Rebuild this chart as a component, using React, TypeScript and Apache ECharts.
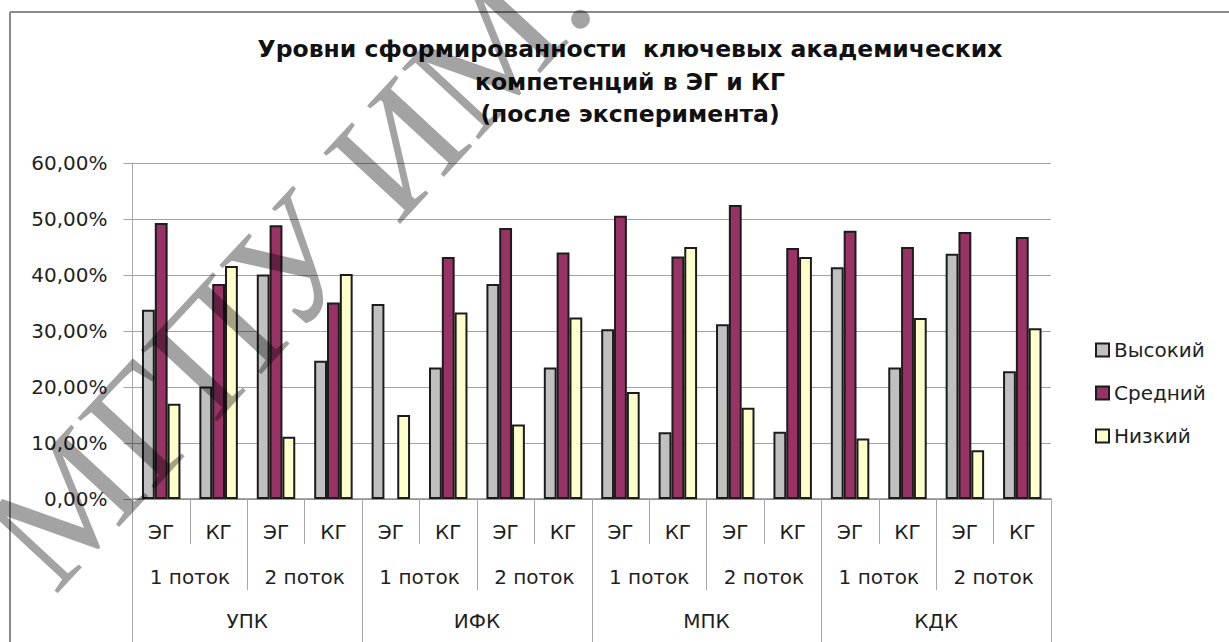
import { useEffect, useRef } from 'react';
import * as echarts from 'echarts';

const groupLabels = ['УПК', 'ИФК', 'МПК', 'КДК'];
const streamLabels = ['1 поток', '2 поток', '1 поток', '2 поток', '1 поток', '2 поток', '1 поток', '2 поток'];
const subgroupLabels = ['ЭГ', 'КГ', 'ЭГ', 'КГ', 'ЭГ', 'КГ', 'ЭГ', 'КГ', 'ЭГ', 'КГ', 'ЭГ', 'КГ', 'ЭГ', 'КГ', 'ЭГ', 'КГ'];

const seriesNames = ['Высокий', 'Средний', 'Низкий'];
const highValues = [33.8, 20.1, 40.1, 24.7, 34.8, 23.5, 38.4, 23.5, 30.3, 11.9, 31.2, 12.0, 41.4, 23.5, 43.8, 22.8];
const midValues = [49.3, 38.4, 48.9, 35.1, null, 43.2, 48.4, 44.0, 50.6, 43.3, 52.5, 44.8, 47.9, 45.0, 47.7, 46.8];
const lowValues = [17.0, 41.6, 11.1, 40.2, 15.0, 33.3, 13.3, 32.4, 19.1, 45.0, 16.3, 43.2, 10.8, 32.3, 8.7, 30.5];

const titleText = 'Уровни сформированности  ключевых академических\nкомпетенций в ЭГ и КГ\n(после эксперимента)';
const watermarkText = 'МГПУ ИМ. И.П.';

const FONT = '"DejaVu Sans", "Noto Sans", sans-serif';
const TEXT = '#1f1f1f';
const GRID_GRAY = '#a3a3a3';
const SEP_GRAY = '#a8a8a8';
const BORDER = '#1c1c1c';

export default function App() {
  const ref = useRef<HTMLDivElement>(null);

  useEffect(() => {
    document.body.style.margin = '0';
    if (!ref.current) return;
    const chart = echarts.init(ref.current, null, { renderer: 'svg' });

    const barStyle = (color: string) => ({ color, borderColor: BORDER, borderWidth: 2 });

    const option: any = {
      animation: false,
      backgroundColor: '#ffffff',
      title: {
        text: titleText,
        left: 625,
        top: 28,
        textAlign: 'center',
        textStyle: { fontFamily: FONT, fontSize: 23.5, fontWeight: 'bold', color: '#111', lineHeight: 32.5 },
      },
      legend: {
        orient: 'vertical',
        left: 1090,
        top: 335,
        itemWidth: 13,
        itemHeight: 13,
        itemGap: 23,
        icon: 'rect',
        data: seriesNames,
        textStyle: { fontFamily: FONT, fontSize: 20, color: TEXT, lineHeight: 20 },
      },
      grid: { left: 132.5, right: 178, top: 163, bottom: 143, containLabel: false },
      xAxis: [
        {
          type: 'category',
          data: subgroupLabels,
          position: 'bottom',
          axisLine: { show: true, lineStyle: { color: '#8c8c8c', width: 1.5 } },
          axisTick: { show: true, interval: 0, length: 45, lineStyle: { color: SEP_GRAY } },
          axisLabel: { interval: 0, margin: 23, fontFamily: FONT, fontSize: 20, color: TEXT },
        },
        {
          type: 'category',
          data: streamLabels,
          position: 'bottom',
          offset: 45,
          axisLine: { show: false },
          axisTick: { show: true, interval: 0, length: 46, lineStyle: { color: SEP_GRAY } },
          axisLabel: { interval: 0, margin: 23, fontFamily: FONT, fontSize: 20, color: TEXT },
        },
        {
          type: 'category',
          data: groupLabels,
          position: 'bottom',
          offset: 91,
          axisLine: { show: false },
          axisTick: { show: true, interval: 0, length: 70, lineStyle: { color: SEP_GRAY } },
          axisLabel: { interval: 0, margin: 21, fontFamily: FONT, fontSize: 20, color: TEXT },
        },
      ],
      yAxis: {
        type: 'value',
        min: 0,
        max: 60,
        interval: 10,
        axisLine: { show: true, lineStyle: { color: SEP_GRAY } },
        axisTick: { show: true, length: 9, lineStyle: { color: GRID_GRAY } },
        splitLine: { show: true, lineStyle: { color: GRID_GRAY, width: 1 } },
        axisLabel: {
          margin: 25,
          fontFamily: FONT,
          fontSize: 20,
          color: TEXT,
          formatter: (v: number) => v.toFixed(2).replace('.', ',') + '%',
        },
      },
      series: [
        { name: seriesNames[0], type: 'bar', xAxisIndex: 0, data: highValues, itemStyle: barStyle('#C0C0C0'), barGap: '0%', barCategoryGap: '33%' },
        { name: seriesNames[1], type: 'bar', xAxisIndex: 0, data: midValues, itemStyle: barStyle('#993366'), barGap: '0%', barCategoryGap: '33%' },
        { name: seriesNames[2], type: 'bar', xAxisIndex: 0, data: lowValues, itemStyle: barStyle('#FFFFCC'), barGap: '0%', barCategoryGap: '33%' },
      ],
      graphic: [
        { type: 'line', shape: { x1: 10, y1: 12, x2: 1229, y2: 12 }, style: { stroke: '#8a8a8a', lineWidth: 2 }, silent: true },
        { type: 'line', shape: { x1: 10, y1: 12, x2: 10, y2: 642 }, style: { stroke: '#8a8a8a', lineWidth: 2 }, silent: true },
        {
          type: 'text',
          x: 15,
          y: 560,
          rotation: Math.PI * 0.262,
          z: 100,
          silent: true,
          style: {
            text: watermarkText,
            fontFamily: '"Liberation Serif", serif',
            fontSize: 160,
            fill: 'rgba(0,0,0,0.36)',
            align: 'left',
            verticalAlign: 'middle',
          },
        },
      ],
    };

    chart.setOption(option);
    return () => chart.dispose();
  }, []);

  return <div ref={ref} style={{ width: 1229, height: 642 }} />;
}
